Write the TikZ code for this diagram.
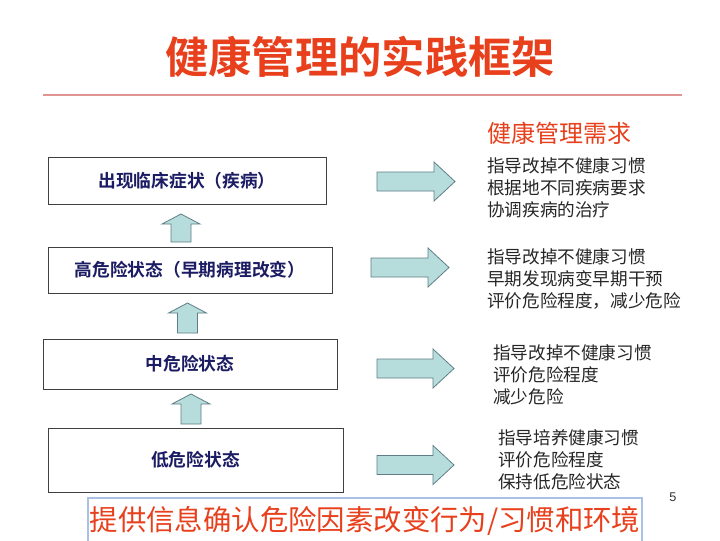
\documentclass[tikz,border=0pt]{standalone}
\usepackage{fontspec}
\newfontfamily\cjk{Noto Sans CJK SC}
\newfontfamily\cjkb{Noto Sans CJK SC Bold}
\setmainfont{Liberation Sans}
\definecolor{titlered}{HTML}{E8401C}
\definecolor{navy}{HTML}{1C1C64}
\definecolor{arrfill}{HTML}{B6DCDC}
\definecolor{arrdraw}{HTML}{5F7F86}
\definecolor{rulepink}{HTML}{E09494}
\definecolor{boxblue}{HTML}{A9C1E3}
\tikzset{
  statebox/.style={draw=black!75, line width=0.6pt, fill=white, inner sep=0pt, font=\cjkb\fontsize{13.3}{15}\selectfont, text=navy},
  need/.style={anchor=west, inner sep=0pt, align=left, font=\cjk\fontsize{13.2}{16.5}\selectfont, text=black!85},
  arrshape/.style={fill=arrfill, draw=arrdraw, line width=0.6pt, line join=miter},
}
\newcommand\rarr[3]{% x0 x1 yc
  \path[arrshape] ({#1},{#3-9.5}) -- ({#2-21},{#3-9.5}) -- ({#2-21},{#3-19.5}) -- ({#2},{#3}) -- ({#2-21},{#3+19.5}) -- ({#2-21},{#3+9.5}) -- ({#1},{#3+9.5}) -- cycle;}
\newcommand\uarr[3]{% xc ytop ybottom
  \path[arrshape] ({#1-10},{#3}) -- ({#1-10},{#2+10}) -- ({#1-19},{#2+10}) -- ({#1},{#2}) -- ({#1+19},{#2+10}) -- ({#1+10},{#2+10}) -- ({#1+10},{#3}) -- cycle;}
\begin{document}
\begin{tikzpicture}[x=0.75pt,y=-0.75pt]
\useasboundingbox (0,0) rectangle (720,540);
\fill[white] (0,0) rectangle (720,540);
% title
\node[inner sep=0pt, text=titlered, font=\cjkb\fontsize{32.5}{35}\selectfont] (title) at (360,57) {健康管理的实践框架};
\draw[rulepink, line width=1.5pt] (43,95) -- (682,95);
\node[inner sep=0pt, anchor=west, text=titlered, font=\cjk\fontsize{18}{20}\selectfont] (needhead) at (487,133) {健康管理需求};
% state boxes
\node[statebox, minimum width={278*0.75pt}, minimum height={47*0.75pt}] (b1) at (187,180.5) {出现临床症状（疾病）};
\node[statebox, minimum width={284*0.75pt}, minimum height={46*0.75pt}] (b2) at (190,270) {高危险状态（早期病理改变）};
\node[statebox, minimum width={294*0.75pt}, minimum height={50*0.75pt}] (b3) at (190,364) {中危险状态};
\node[statebox, minimum width={295*0.75pt}, minimum height={64*0.75pt}] (b4) at (195.5,460) {低危险状态};
% up arrows
\uarr{181}{214}{242}
\uarr{187.5}{303}{333}
\uarr{191}{394}{424}
% right arrows
\rarr{377}{455}{181.5}
\rarr{371}{449}{267.5}
\rarr{377}{454}{368.5}
\rarr{377}{454}{465}
% needs
\node[need] (n1) at (487,188) {指导改掉不健康习惯\\根据地不同疾病要求\\协调疾病的治疗};
\node[need] (n2) at (487,279) {指导改掉不健康习惯\\早期发现病变早期干预\\评价危险程度，减少危险};
\node[need] (n3) at (493,375) {指导改掉不健康习惯\\评价危险程度\\减少危险};
\node[need] (n4) at (498,460) {指导培养健康习惯\\评价危险程度\\保持低危险状态};
% bottom box
\node[draw=boxblue, line width=1.2pt, minimum width={554*0.75pt}, minimum height={46*0.75pt}, inner sep=0pt, text=titlered, font=\cjk\fontsize{21.3}{24}\selectfont] (bottom) at (365,521) {提供信息确认危险因素改变行为/习惯和环境};
\node[inner sep=0pt, font=\fontsize{9.5}{11}\selectfont, text=black!80] (page) at (673,497) {5};
\end{tikzpicture}
\end{document}
